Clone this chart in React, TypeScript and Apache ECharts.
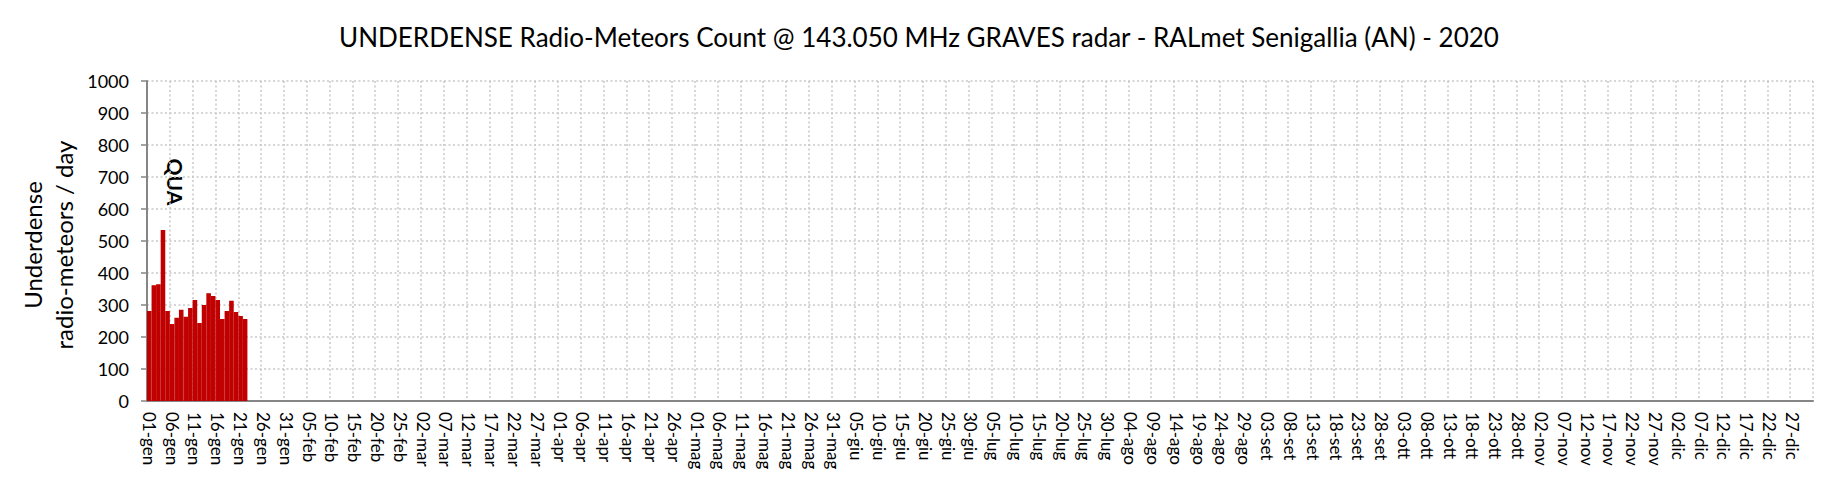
import React, { useEffect, useRef } from "react";
import * as echarts from "echarts";

const titleText =
  "UNDERDENSE Radio-Meteors Count @ 143.050 MHz GRAVES radar - RALmet Senigallia (AN) - 2020";
const yAxisTitle = ["Underdense", "radio-meteors / day"];
const monthNames = ["gen", "feb", "mar", "apr", "mag", "giu", "lug", "ago", "set", "ott", "nov", "dic"];
const monthDays = [31, 28, 31, 30, 31, 30, 31, 31, 30, 31, 30, 31];
// daily counts from 01-gen
const dailyCounts = [
  281, 362, 365, 534, 281, 241, 260, 285, 263, 291, 316, 244, 300, 337, 328, 316, 256, 281, 313, 278,
  266, 256,
];
const annotationText = "QUA";

const categories: string[] = [];
monthNames.forEach((m, mi) => {
  for (let d = 1; d <= monthDays[mi]; d++) {
    categories.push(`${d < 10 ? "0" + d : d}-${m}`);
  }
});
const seriesData = categories.map((_, i) => (i < dailyCounts.length ? dailyCounts[i] : null));

const FONT = "Lato, 'Liberation Sans', sans-serif";

export default function App() {
  const ref = useRef<HTMLDivElement>(null);
  useEffect(() => {
    if (!ref.current) return;
    const chart = echarts.init(ref.current, undefined, { renderer: "svg" });
    chart.setOption({
      animation: false,
      backgroundColor: "#ffffff",
      textStyle: { fontFamily: FONT },
      title: {
        text: titleText,
        left: "center",
        top: 19,
        textStyle: { fontFamily: FONT, fontWeight: "normal", fontSize: 26, color: "#000" },
      },
      grid: { left: 147, right: 25, top: 81, bottom: 86, outerBoundsMode: "none" },
      xAxis: {
        type: "category",
        data: categories,
        boundaryGap: true,
        axisLine: { show: true, lineStyle: { color: "#868686", width: 2 } },
        axisTick: { show: false },
        axisLabel: {
          interval: 4,
          rotate: -90,
          margin: 11,
          fontSize: 17,
          color: "#000",
          fontFamily: FONT,
        },
        splitLine: {
          show: true,
          interval: 4,
          lineStyle: { color: "#c8c8c8", width: 1.5, type: [2, 2.5] },
        },
      },
      yAxis: {
        type: "value",
        min: 0,
        max: 1000,
        interval: 100,
        axisLine: { show: true, lineStyle: { color: "#868686", width: 2 } },
        axisTick: { show: true, length: 6, lineStyle: { color: "#868686", width: 1.5 } },
        axisLabel: {
          fontSize: 18,
          color: "#000",
          margin: 18,
          fontFamily: FONT,
          formatter: (v: number) => String(v),
        },
        splitLine: {
          show: true,
          lineStyle: { color: "#c8c8c8", width: 1.5, type: [2, 2.5] },
        },
      },
      series: [
        {
          type: "bar",
          data: seriesData,
          barCategoryGap: "0%",
          itemStyle: { color: "#c00000", borderColor: "#c00000", borderWidth: 1.4 },
        },
      ],
      graphic: [
        {
          type: "text",
          x: 48,
          y: 245,
          rotation: Math.PI / 2,
          style: {
            text: yAxisTitle.join("\n"),
            fontSize: 24,
            lineHeight: 31,
            fontFamily: FONT,
            fill: "#000",
            textAlign: "center",
            textVerticalAlign: "middle",
          },
        },
        {
          type: "rect",
          shape: { x: 149, y: 147, width: 63, height: 59 },
          style: { fill: "#ffffff" },
        },
        {
          type: "text",
          x: 175,
          y: 182,
          rotation: -Math.PI / 2,
          style: {
            text: annotationText,
            fontSize: 21,
            fontWeight: "bold",
            fontFamily: FONT,
            fill: "#000",
            textAlign: "center",
            textVerticalAlign: "middle",
          },
        },
      ],
    });
    return () => chart.dispose();
  }, []);
  return (
    <div
      ref={ref}
      style={{ position: "fixed", left: 0, top: 0, width: 1838, height: 487, background: "#fff" }}
    />
  );
}
